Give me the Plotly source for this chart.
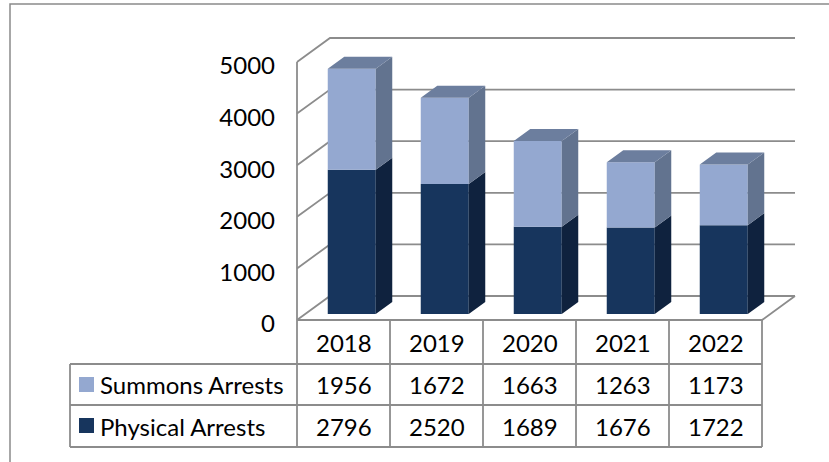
import plotly.graph_objects as go

# ---- data ----
years = ["2018", "2019", "2020", "2021", "2022"]
summons = [1956, 1672, 1663, 1263, 1173]
physical = [2796, 2520, 1689, 1676, 1722]
y_ticks = [0, 1000, 2000, 3000, 4000, 5000]
series_names = ["Summons Arrests", "Physical Arrests"]

# ---- page geometry (pixels) ----
W, H = 829, 462
LEFT_PX = 297          # front-left edge of the 3D box
CAT_PX = 93            # width of one category column
FLOOR_PX = 320         # front baseline (value 0)
PX_PER_VAL = 258 / 5000
DEPTH_DX_PX, DEPTH_DY_PX = 33, 24   # oblique depth of the box
BAR_W = 48 / CAT_PX

FONT = "Lato"
FONT_SIZE = 24
GRID_C = "#8c8c8c"
LIGHT = dict(front="#94a8d0", side="#62738f", top="#6c7e9e")
DARK = dict(front="#17355d", side="#0f223e", top="#1d3a62")

n = len(years)
x_lo = -0.5 - LEFT_PX / CAT_PX
x_hi = x_lo + W / CAT_PX
v_lo = -(H - FLOOR_PX) / PX_PER_VAL
v_hi = FLOOR_PX / PX_PER_VAL
DX = DEPTH_DX_PX / CAT_PX
DY = DEPTH_DY_PX / PX_PER_VAL


def py(p):
    """pixel row -> paper y"""
    return 1 - p / H


def px(p):
    """pixel column -> paper x"""
    return p / W


fig = go.Figure()

# front faces of the stacked columns
front_shift_x = 0.25 * DX
front_shift_v = 0.25 * DY
xs = [i + front_shift_x for i in range(n)]
fig.add_trace(go.Bar(
    x=xs, y=physical, base=[front_shift_v] * n, width=BAR_W,
    marker=dict(color=DARK["front"], line=dict(width=0)),
    name=series_names[1], showlegend=False, hoverinfo="skip"))
fig.add_trace(go.Bar(
    x=xs, y=summons, base=[front_shift_v + p for p in physical], width=BAR_W,
    marker=dict(color=LIGHT["front"], line=dict(width=0)),
    name=series_names[0], showlegend=False, hoverinfo="skip"))


def poly_trace(pts_list, color):
    xx, yy = [], []
    for pts in pts_list:
        for a, b in pts:
            xx.append(a)
            yy.append(b)
        xx.append(pts[0][0])
        yy.append(pts[0][1])
        xx.append(None)
        yy.append(None)
    return go.Scatter(x=xx, y=yy, mode="lines", fill="toself", fillcolor=color,
                      line=dict(width=0, color=color), hoverinfo="skip",
                      showlegend=False)


bdx, bdv = 0.5 * DX, 0.5 * DY
side_dark, side_light, tops = [], [], []
for i in range(n):
    xl = xs[i] - BAR_W / 2
    xr = xs[i] + BAR_W / 2
    b0 = front_shift_v
    b1 = b0 + physical[i]
    b2 = b1 + summons[i]
    side_dark.append([(xr, b0), (xr + bdx, b0 + bdv), (xr + bdx, b1 + bdv), (xr, b1)])
    side_light.append([(xr, b1), (xr + bdx, b1 + bdv), (xr + bdx, b2 + bdv), (xr, b2)])
    tops.append([(xl, b2), (xl + bdx, b2 + bdv), (xr + bdx, b2 + bdv), (xr, b2)])

fig.add_trace(poly_trace(side_dark, DARK["side"]))
fig.add_trace(poly_trace(side_light, LIGHT["side"]))
fig.add_trace(poly_trace(tops, LIGHT["top"]))

shapes = []
line = dict(color=GRID_C, width=1.8)

# walls: gridlines along the side wall and back wall
x_front_l = -0.5
x_front_r = n - 0.5
for v in y_ticks:
    shapes.append(dict(type="path", xref="x", yref="y", layer="below",
                       path=f"M {x_front_l},{v} L {x_front_l + DX},{v + DY} L {x_front_r + DX},{v + DY}",
                       line=line))
# front-left vertical edge of the side wall
shapes.append(dict(type="line", xref="x", yref="y", layer="below",
                   x0=x_front_l, x1=x_front_l, y0=0, y1=y_ticks[-1], line=line))
# floor: front edge and right edge
shapes.append(dict(type="path", xref="x", yref="y", layer="below",
                   path=f"M {x_front_l},0 L {x_front_r},0 L {x_front_r + DX},{DY}",
                   line=line))

# data table grid
row_tops = [FLOOR_PX, 364, 405, 447]
LEG_L = 70
for k in range(n + 1):
    shapes.append(dict(type="line", xref="x", yref="paper", layer="below",
                       x0=k - 0.5, x1=k - 0.5, y0=py(row_tops[0]), y1=py(row_tops[-1]),
                       line=line))
for r in row_tops[1:]:
    shapes.append(dict(type="line", xref="paper", yref="paper", layer="below",
                       x0=px(LEG_L), x1=px(LEFT_PX + n * CAT_PX), y0=py(r), y1=py(r),
                       line=line))
shapes.append(dict(type="line", xref="paper", yref="paper", layer="below",
                   x0=px(LEG_L), x1=px(LEG_L), y0=py(row_tops[1]), y1=py(row_tops[-1]),
                   line=line))

# legend keys inside the table
for r, col in zip(row_tops[1:3], [LIGHT["front"], DARK["front"]]):
    mid = r + 20.5
    shapes.append(dict(type="rect", xref="paper", yref="paper", layer="above",
                       x0=px(79), x1=px(94), y0=py(mid - 7.5), y1=py(mid + 7.5),
                       fillcolor=col, line=dict(width=0)))

# outer chart border
shapes.append(dict(type="rect", xref="paper", yref="paper", layer="below",
                   x0=px(10), x1=px(W + 10), y0=py(4), y1=py(H + 10),
                   line=dict(color="#8a8a8a", width=1.5)))

annotations = []
tfont = dict(family=FONT, size=FONT_SIZE, color="#000000")
row_mid = [(row_tops[j] + row_tops[j + 1]) / 2 for j in range(3)]
for i, yr in enumerate(years):
    annotations.append(dict(x=i, y=py(row_mid[0]), xref="x", yref="paper", text=yr,
                            showarrow=False, font=tfont, xanchor="center", yanchor="middle"))
    annotations.append(dict(x=i, y=py(row_mid[1]), xref="x", yref="paper", text=str(summons[i]),
                            showarrow=False, font=tfont, xanchor="center", yanchor="middle"))
    annotations.append(dict(x=i, y=py(row_mid[2]), xref="x", yref="paper", text=str(physical[i]),
                            showarrow=False, font=tfont, xanchor="center", yanchor="middle"))
for j, name in enumerate(series_names):
    annotations.append(dict(x=px(98), y=py(row_mid[j + 1]), xref="paper", yref="paper",
                            text=name, showarrow=False, font=tfont,
                            xanchor="left", yanchor="middle"))

fig.update_layout(
    width=W, height=H,
    margin=dict(l=0, r=0, t=0, b=0),
    paper_bgcolor="white", plot_bgcolor="white",
    barmode="overlay",
    showlegend=False,
    xaxis=dict(range=[x_lo, x_hi], visible=False, fixedrange=True),
    yaxis=dict(range=[v_lo, v_hi], anchor="free", position=LEFT_PX / W, side="left",
               tickvals=y_ticks, showgrid=False, zeroline=False, showline=False,
               ticks="", ticklabelstandoff=22, ticklabelshift=4,
               tickfont=dict(family=FONT, size=FONT_SIZE, color="#000000"), fixedrange=True),
    shapes=shapes,
    annotations=annotations,
)

fig.write_html("out.html")
